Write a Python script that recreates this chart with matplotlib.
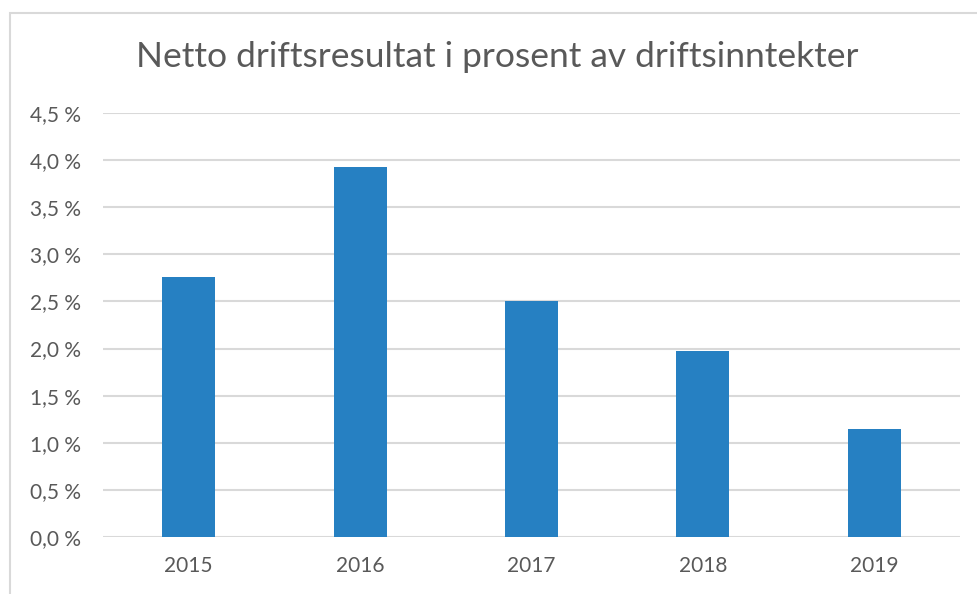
import matplotlib.pyplot as plt
from matplotlib.patches import Rectangle
from matplotlib.ticker import FuncFormatter

years = ["2015", "2016", "2017", "2018", "2019"]
values = [2.76, 3.93, 2.50, 1.97, 1.15]
yticks = [0.0, 0.5, 1.0, 1.5, 2.0, 2.5, 3.0, 3.5, 4.0, 4.5]

BLUE = "#2680c2"
GRID = "#d9d9d9"
TEXT = "#595959"

plt.rcParams["font.family"] = ["Lato", "DejaVu Sans"]

W, H = 978, 594
fig = plt.figure(figsize=(W / 100, H / 100), dpi=100)

# ramme rundt diagrammet (beskåret til høyre og nederst)
fig.patches.append(Rectangle((10 / W, -0.1), 1.2, (H - 13) / H + 0.1,
                             transform=fig.transFigure, fill=False,
                             edgecolor=GRID, lw=1.5))

ax = fig.add_axes([103 / W, 57 / H, (960 - 103) / W, (537 - 113) / H])
x = range(len(years))
ax.bar(x, values, width=0.31, color=BLUE, zorder=3)
ax.set_xlim(-0.5, len(years) - 0.5)
ax.set_ylim(0, 4.5)
ax.set_yticks(yticks)
ax.yaxis.set_major_formatter(FuncFormatter(lambda v, p: f"{v:.1f} %".replace(".", ",")))
ax.set_xticks(list(x))
ax.set_xticklabels(years)
ax.grid(axis="y", color=GRID, lw=1.5, zorder=0)
for s in ax.spines.values():
    s.set_visible(False)
ax.tick_params(length=0, labelsize=15, labelcolor=TEXT)
ax.tick_params(axis="y", pad=16)
ax.tick_params(axis="x", pad=14)

fig.text(497 / W, 1 - 57 / H, "Netto driftsresultat i prosent av driftsinntekter",
         ha="center", va="center", fontsize=25.5, color=TEXT)

fig.savefig("out.png", dpi=100)
